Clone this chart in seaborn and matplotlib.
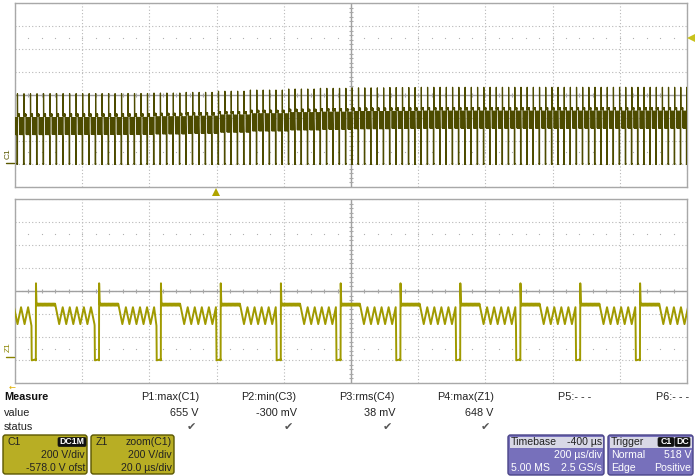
import numpy as np
import pandas as pd
import matplotlib
matplotlib.use("Agg")
import matplotlib.pyplot as plt
import seaborn as sns
from matplotlib.patches import FancyBboxPatch, Rectangle

sns.set_theme(style="white")
plt.rcParams['font.family'] = ['Liberation Sans', 'DejaVu Sans']

V_PER_DIV = 200          # both traces
OFFSET_V = -578          # C1 offset -> screen centre at +578 V
C1_US_PER_DIV = 200
Z1_US_PER_DIV = 20

# one switching cycle (V, µs after the rising edge)
cycle_spike_v = 645
cycle_plateau_v = [468, 452]      # edges of the flat-top band
cycle_plateau_us = 5.9
cycle_ring_v = [290, 437]         # ringing trough / peak
cycle_ring_half_us = 1.05
cycle_low_v = -25
cycle_low_us = 1.3                # low state before the next rising edge

# Z1 rising-edge times (µs on the 200 µs zoom window)
z1_rise_us = [-12.5, 6.2, 25.0, 43.4, 61.2, 79.1, 96.9, 114.7, 132.5,
              150.4, 168.2, 186.0, 204.0]

# C1 (2 ms window): first edge, cycle period per division,
# level shift per half division (100 µs)
c1_first_rise_us = 7.3
c1_period_us = [19.4, 19.3, 19.2, 19.0, 18.9, 18.7, 18.6, 18.4, 18.3, 18.2]
c1_level_shift_v = [-56, -55, -55, -54, -50, -44, -34, -24, -15, -9,
                    -5, -2, 0, 0, 0, 0, 0, 0, 0, 0]

# measurement table
meas_names = ["P1:max(C1)", "P2:min(C3)", "P3:rms(C4)", "P4:max(Z1)", "P5:- - -", "P6:- - -"]
meas_values = ["655 V", "-300 mV", "38 mV", "648 V", "", ""]
meas_status = [True, True, True, True, False, False]


def cycle_points(t0, t1, shift):
    ts = [t0, t0 + 0.04, t0 + 0.2]
    vs = [cycle_low_v, cycle_spike_v + shift, cycle_plateau_v[0] + shift]
    t = t0 + 0.2
    i = 0
    while t + 0.12 < t0 + cycle_plateau_us:
        t += 0.12
        i += 1
        ts.append(t)
        vs.append(cycle_plateau_v[i % 2] + shift)
    t_end = t1 - cycle_low_us
    t = t0 + cycle_plateau_us
    k = 0
    while t + cycle_ring_half_us < t_end:
        t += cycle_ring_half_us
        ts.append(t)
        vs.append(cycle_ring_v[k % 2] + shift)
        k += 1
    ts += [t_end, t_end + 0.08, t1 - 0.02]
    vs += [cycle_ring_v[0] + shift - 15, cycle_low_v, cycle_low_v + 8]
    return ts, vs


def build(rises, shifts):
    T, V = [], []
    for k in range(len(rises) - 1):
        ts, vs = cycle_points(rises[k], rises[k + 1], shifts[k])
        T += ts
        V += vs
    return pd.DataFrame({"t": T, "v": V})


# C1 cycles
c1_rises = []
t = c1_first_rise_us - c1_period_us[0]
while t < 10 * C1_US_PER_DIV + 40:
    c1_rises.append(t)
    d = int(min(max(t // C1_US_PER_DIV, 0), 9))
    t += c1_period_us[d]
c1_shifts = [c1_level_shift_v[int(min(max(r // (C1_US_PER_DIV / 2), 0), 19))] for r in c1_rises]
df_c1 = build(c1_rises, c1_shifts)
df_z1 = build(z1_rise_us, [0] * len(z1_rise_us))

# ---------------- figure ----------------
W, H = 696, 476
fig = plt.figure(figsize=(W / 100, H / 100), dpi=100)
fig.patch.set_facecolor("white")

centre = -OFFSET_V
ylim = (centre - 4 * V_PER_DIV, centre + 4 * V_PER_DIV)


def panel(top_px, bottom_px, us_div, df, color, lw):
    ax = fig.add_axes([15 / W, 1 - bottom_px / H, 672 / W, (bottom_px - top_px) / H])
    ax.set_xlim(0, 10 * us_div)
    ax.set_ylim(*ylim)
    ax.set_xticks([us_div * i for i in range(11)])
    ax.set_yticks([ylim[0] + V_PER_DIV * i for i in range(9)])
    ax.grid(True, linestyle=(0, (1, 2)), color="#b8b8b8", lw=0.8)
    ax.tick_params(length=0, labelbottom=False, labelleft=False)
    for s in ax.spines.values():
        s.set_color("#a8a8a8")
        s.set_linewidth(1.0)
    ax.axhline(centre, color="#a0a0a0", lw=1.0, zorder=1)
    ax.axvline(5 * us_div, color="#a0a0a0", lw=1.0, zorder=1)
    # minor ticks on the centre lines
    mx = [us_div * i / 5 for i in range(1, 50)]
    ax.plot(mx, [centre] * len(mx), ls="none", marker="|", ms=3, mew=0.8, color="#a8a8a8", zorder=1)
    my = [ylim[0] + V_PER_DIV * i / 5 for i in range(1, 40)]
    ax.plot([5 * us_div] * len(my), my, ls="none", marker="_", ms=3, mew=0.8, color="#a8a8a8", zorder=1)
    for yy in (centre + 2.5 * V_PER_DIV, centre - 2.5 * V_PER_DIV):
        ax.plot(mx, [yy] * len(mx), ls="none", marker="s", ms=0.8, mew=0, color="#b0b0b0", zorder=1)
    sns.lineplot(data=df, x="t", y="v", ax=ax, estimator=None, sort=False,
                 color=color, lw=lw, zorder=3)
    ax.set_xlabel("")
    ax.set_ylabel("")
    return ax


ax1 = panel(3, 187, C1_US_PER_DIV, df_c1, "#4d4b00", 0.9)
ax2 = panel(199, 383, Z1_US_PER_DIV, df_z1, "#a09a00", 1.4)

# ---------------- overlay (pixel coordinates) ----------------
ov = fig.add_axes([0, 0, 1, 1], zorder=10)
ov.set_xlim(0, W)
ov.set_ylim(H, 0)
ov.axis("off")
ov.patch.set_alpha(0)

# channel markers
ov.text(8, 154, "C1", rotation=90, fontsize=6, color="#5a5800", ha="center", va="center")
ov.plot([6, 14], [162.5, 162.5], color="#5a5800", lw=1)
ov.text(8, 347, "Z1", rotation=90, fontsize=6, color="#8a8400", ha="center", va="center")
ov.plot([6, 14], [356.5, 356.5], color="#8a8400", lw=1)
ov.plot(691, 38, marker="<", ms=6, color="#c8c21c", mew=0)
ov.plot(216, 191.5, marker="^", ms=6, color="#b0a400", mew=0)
ov.text(12, 387, "←", fontsize=6, color="#e0b000", ha="center", va="center", family="DejaVu Sans")

# measurement table
fs = 7.8
ov.text(4, 397, "Measure", fontsize=fs, fontweight="bold", color="#111", va="center")
ov.text(4, 413, "value", fontsize=fs, color="#222", va="center")
ov.text(4, 427, "status", fontsize=fs, color="#222", va="center")
col_right = [199, 296.5, 395, 493.5, 591, 689]
for xr, nm, vl, st in zip(col_right, meas_names, meas_values, meas_status):
    ov.text(xr, 397, nm, fontsize=fs, color="#222", ha="right", va="center")
    if vl:
        ov.text(xr, 413, vl, fontsize=fs, color="#222", ha="right", va="center")
    if st:
        ov.text(xr - 3, 427, "✔", fontsize=8, color="#555", ha="right", va="center",
                family="DejaVu Sans")


def box(x0, y0, x1, y1, fc, ec):
    ov.add_patch(FancyBboxPatch((x0, y0), x1 - x0, y1 - y0,
                                boxstyle="round,pad=0,rounding_size=2.5",
                                fc=fc, ec=ec, lw=1))


def badge(x0, x1, yc, label):
    ov.add_patch(FancyBboxPatch((x0, yc - 4.5), x1 - x0, 9,
                                boxstyle="round,pad=0,rounding_size=1.5", fc="#111", ec="#111", lw=0.5))
    ov.text((x0 + x1) / 2, yc, label, fontsize=6.3, color="white", ha="center", va="center",
            fontweight="bold")


bfs = 7.6
olive = "#b8ae24"
box(3, 435, 87, 474, olive, "#5a5600")
ov.text(8, 442, "C1", fontsize=bfs, color="#222", va="center")
badge(58, 86, 442, "DC1M")
ov.text(85, 455, "200 V/div", fontsize=bfs, color="#222", ha="right", va="center")
ov.text(85, 468, "-578.0 V ofst", fontsize=bfs, color="#222", ha="right", va="center")

box(91, 435, 174, 474, olive, "#5a5600")
ov.text(96, 442, "Z1", fontsize=bfs, color="#222", va="center")
ov.text(172, 442, "zoom(C1)", fontsize=bfs, color="#222", ha="right", va="center")
ov.text(172, 455, "200 V/div", fontsize=bfs, color="#222", ha="right", va="center")
ov.text(172, 468, "20.0 µs/div", fontsize=bfs, color="#222", ha="right", va="center")

purple = "#7770bb"
box(508, 435, 604, 475, purple, "#4a4488")
ov.add_patch(Rectangle((509.5, 436.5), 93, 11, fc="#d8d8e6", ec="none"))
ov.text(511, 442, "Timebase", fontsize=bfs, color="#222", va="center")
ov.text(602, 442, "-400 µs", fontsize=bfs, color="#222", ha="right", va="center")
ov.text(602, 455, "200 µs/div", fontsize=bfs, color="white", ha="right", va="center")
ov.text(511, 468, "5.00 MS", fontsize=bfs, color="white", va="center")
ov.text(602, 468, "2.5 GS/s", fontsize=bfs, color="white", ha="right", va="center")

box(608, 435, 693, 475, purple, "#4a4488")
ov.add_patch(Rectangle((609.5, 436.5), 82, 11, fc="#d8d8e6", ec="none"))
ov.text(611, 442, "Trigger", fontsize=bfs, color="#222", va="center")
badge(658, 674, 442, "C1")
badge(675, 690, 442, "DC")
ov.text(611, 455, "Normal", fontsize=bfs, color="white", va="center")
ov.text(691, 455, "518 V", fontsize=bfs, color="white", ha="right", va="center")
ov.text(611, 468, "Edge", fontsize=bfs, color="white", va="center")
ov.text(691, 468, "Positive", fontsize=bfs, color="white", ha="right", va="center")

fig.savefig("out.png", dpi=100, facecolor="white")
